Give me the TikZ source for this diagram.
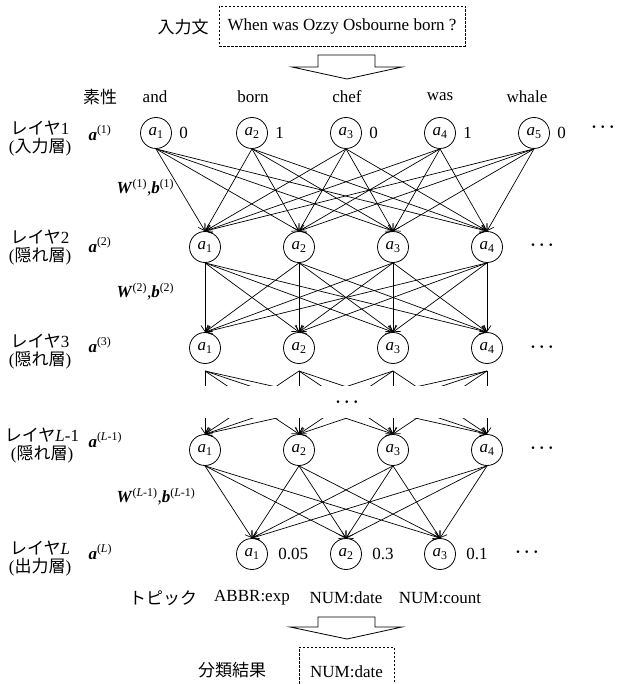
\documentclass[tikz,border=0pt]{standalone}
\usepackage{fontspec}
\setmainfont{Liberation Serif}
\newfontfamily\jp{Noto Sans CJK JP}
\usetikzlibrary{arrows.meta}
\begin{document}
\begin{tikzpicture}[x=1pt,y=-1pt,font=\fontsize{17}{19}\selectfont,
  neuron/.style={circle,draw,line width=0.8pt,minimum size=31pt,inner sep=0pt},
  conn/.style={line width=0.7pt,-{Straight Barb[length=6pt,width=8pt]}},
  fan/.style={line width=0.7pt},
  dbox/.style={draw,dash pattern=on 2.5pt off 1.5pt,line width=0.8pt},
  blockarrow/.style={draw,line width=0.8pt,fill=white},
  dotsnode/.style={font=\fontsize{19}{19}\selectfont\boldmath,inner sep=0pt},
  lay/.style={align=center,font=\fontsize{17}{18}\selectfont}]
\useasboundingbox (0,0) rectangle (617,684);
\clip (0,0) rectangle (617,684);
% input
\node[dbox,minimum width=246pt,minimum height=40pt] (inbox) at (342,26) {When was Ozzy Osbourne born ?};
\node (inlab) at (183,27) {\jp 入力文};
\draw[blockarrow] (318,55) -- (375,55) -- (375,67) -- (402,67) -- (347,79) -- (292,67) -- (318,67) -- cycle;
% features
\node (feat) at (100,97) {\jp 素性};
\foreach \i/\x/\w in {1/155/and,2/253/born,3/347/chef,4/440/was,5/527/whale}
  \node (w\i) at (\x,97) {\w};
% layers
\foreach \i/\x in {1/156,2/252,3/346,4/440,5/534}
  \node[neuron] (p\i) at (\x,133) {\textit{a}\textsubscript{\i}};
\foreach \i/\v in {1/0,2/1,3/0,4/1,5/0}
  \node[anchor=west] (v\i) at ([xshift=4pt]p\i.east) {\v};
\foreach \i/\x in {1/205,2/299,3/393,4/487}{
  \node[neuron] (q\i) at (\x,247) {\textit{a}\textsubscript{\i}};
  \node[neuron] (r\i) at (\x,348) {\textit{a}\textsubscript{\i}};
  \node[neuron] (s\i) at (\x,450) {\textit{a}\textsubscript{\i}};
  \coordinate (f\i) at (\x,371);
}
\foreach \i/\x in {1/252,2/346,3/440}
  \node[neuron] (t\i) at (\x,554) {\textit{a}\textsubscript{\i}};
\foreach \i/\v in {1/0.05,2/0.3,3/0.1}
  \node[anchor=west] (u\i) at ([xshift=7pt]t\i.east) {\v};
% edges
\foreach \i in {1,...,5} \foreach \j in {1,...,4} \draw[conn] (p\i.south) -- (q\j.north);
\foreach \i in {1,...,4} \foreach \j in {1,...,4} \draw[conn] (q\i.south) -- (r\j.north);
\begin{scope}
  \clip (0,365) rectangle (617,385);
  \foreach \i in {1,...,4} \foreach \j in {1,...,4} \draw[fan] (f\i) -- (s\j.north);
\end{scope}
\begin{scope}
  \clip (0,418) rectangle (617,470);
  \foreach \i in {1,...,4} \foreach \j in {1,...,4} \draw[conn] (f\i) -- (s\j.north);
\end{scope}
\foreach \i in {1,...,4} \foreach \j in {1,...,3} \draw[conn] (s\i.south) -- (t\j.north);
% dots
\node[dotsnode] (d1) at (603,127) {$\cdots$};
\node[dotsnode] (d2) at (542,245) {$\cdots$};
\node[dotsnode] (d3) at (542,347) {$\cdots$};
\node[dotsnode] (dm) at (347,402) {$\cdots$};
\node[dotsnode] (d4) at (542,448) {$\cdots$};
\node[dotsnode] (d5) at (527,552) {$\cdots$};
% left labels
\node[lay] (l1) at (40,139) {{\jp レイヤ}1\\({\jp 入力層})};
\node[lay] (l2) at (40,248) {{\jp レイヤ}2\\({\jp 隠れ層})};
\node[lay] (l3) at (40,352) {{\jp レイヤ}3\\({\jp 隠れ層})};
\node[lay] (l4) at (42,446) {{\jp レイヤ}\textit{L}-1\\({\jp 隠れ層})};
\node[lay] (l5) at (40,559) {{\jp レイヤ}\textit{L}\\({\jp 出力層})};
\node[anchor=west] (al1) at (85,133) {\textbf{\textit{a}}\textsuperscript{(1)}};
\node[anchor=west] (al2) at (85,245) {\textbf{\textit{a}}\textsuperscript{(2)}};
\node[anchor=west] (al3) at (85,345) {\textbf{\textit{a}}\textsuperscript{(3)}};
\node[anchor=west] (al4) at (85,440) {\textbf{\textit{a}}\textsuperscript{(\textit{L}-1)}};
\node[anchor=west] (al5) at (85,552) {\textbf{\textit{a}}\textsuperscript{(\textit{L})}};
\node[anchor=west] (wl1) at (113,188) {\textbf{\textit{W}}\textsuperscript{(1)},\textbf{\textit{b}}\textsuperscript{(1)}};
\node[anchor=west] (wl2) at (113,292) {\textbf{\textit{W}}\textsuperscript{(2)},\textbf{\textit{b}}\textsuperscript{(2)}};
\node[anchor=west] (wl3) at (113,497) {\textbf{\textit{W}}\textsuperscript{(\textit{L}-1)},\textbf{\textit{b}}\textsuperscript{(\textit{L}-1)}};
% topics
\node (topic) at (163,598) {\jp トピック};
\node (c1) at (252,598) {ABBR:exp};
\node (c2) at (346,598) {NUM:date};
\node (c3) at (440,598) {NUM:count};
\draw[blockarrow] (318,617) -- (375,617) -- (375,627) -- (402,627) -- (347,639) -- (290,627) -- (318,627) -- cycle;
\node[dbox,anchor=north,minimum width=95pt,minimum height=48pt] (outbox) at (346.5,647) {NUM:date};
\node (outlab) at (232,670) {\jp 分類結果};
\end{tikzpicture}
\end{document}
